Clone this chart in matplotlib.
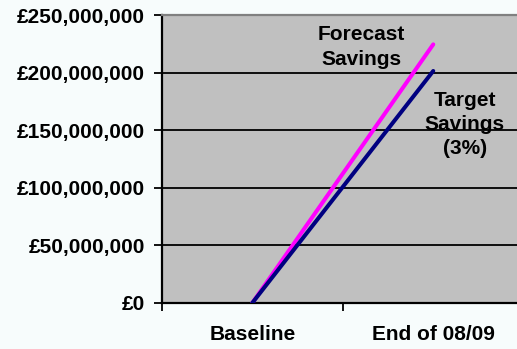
import matplotlib.pyplot as plt
from matplotlib.ticker import FuncFormatter

# savings profile, baseline to end of 08/09
periods = ["Baseline", "End of 08/09"]
forecast_savings = [0, 224_500_000]
target_savings = [0, 201_400_000]
y_ticks = [0, 50_000_000, 100_000_000, 150_000_000, 200_000_000, 250_000_000]

FONT = "Liberation Sans"
BG = "#f7fcfc"
FS = 15


def pounds(v, _pos):
    return f"£{int(v):,}"


def main() -> None:
    fig = plt.figure(figsize=(5.17, 3.49), dpi=100, facecolor=BG)
    ax = fig.add_axes([0.313, 0.132, 0.700, 0.825])
    ax.set_facecolor("#c0c0c0")

    x = list(range(len(periods)))
    ax.plot(x, forecast_savings, color="#ff00ff", lw=2.9,
            solid_capstyle="round", zorder=3)
    ax.plot(x, target_savings, color="#000080", lw=2.9,
            solid_capstyle="round", zorder=3)

    ax.set_xlim(-0.5, len(periods) - 0.5)
    ax.set_ylim(0, 250_000_000)

    # horizontal gridlines in black, top edge drawn as grey border
    ax.set_yticks(y_ticks)
    ax.yaxis.set_major_formatter(FuncFormatter(pounds))
    for v in y_ticks[1:-1]:
        ax.axhline(v, color="black", lw=1.3, zorder=1)

    # category labels sit between the tick marks
    ax.set_xticks([-0.5, 0.5, 1.5])
    ax.set_xticklabels([])
    ax.set_xticks(x, minor=True)
    ax.set_xticklabels(periods, minor=True)
    ax.tick_params(axis="x", which="major", length=6, width=1.3,
                   direction="out", color="black")
    ax.tick_params(axis="x", which="minor", length=0, pad=16)
    ax.tick_params(axis="y", length=6, width=1.3, direction="out", pad=6)

    for lab in ax.get_yticklabels() + ax.get_xticklabels(minor=True):
        lab.set_fontfamily(FONT)
        lab.set_fontweight("bold")
        lab.set_fontsize(FS)

    ax.spines["left"].set_linewidth(1.6)
    ax.spines["bottom"].set_linewidth(1.6)
    ax.spines["top"].set_color("#808080")
    ax.spines["top"].set_linewidth(1.6)
    ax.spines["right"].set_visible(False)

    ax.text(0.605, 222_000_000, "Forecast\nSavings", ha="center", va="center",
            fontfamily=FONT, fontweight="bold", fontsize=FS, linespacing=1.4)
    ax.text(1.175, 155_000_000, "Target\nSavings\n(3%)", ha="center",
            va="center", fontfamily=FONT, fontweight="bold", fontsize=FS,
            linespacing=1.35)

    fig.savefig("out.png", dpi=100, facecolor=BG)
    plt.close(fig)


if __name__ == "__main__":
    main()
